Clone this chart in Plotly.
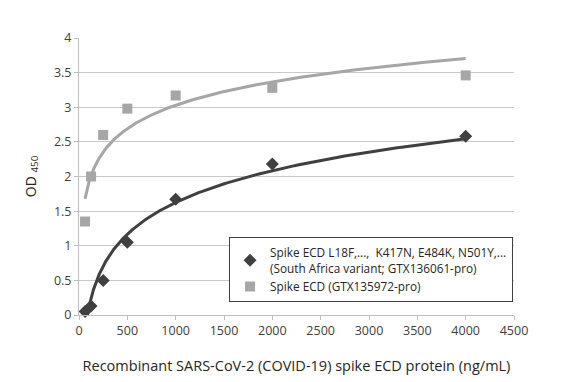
import numpy as np
import plotly.graph_objects as go

# Data
concentration = [62.5, 125, 250, 500, 1000, 2000, 4000]
variant_od = [0.05, 0.13, 0.50, 1.05, 1.67, 2.18, 2.58]
wildtype_od = [1.35, 2.00, 2.60, 2.98, 3.17, 3.28, 3.46]
variant_name = "Spike ECD L18F,...,  K417N, E484K, N501Y,...<br>(South Africa variant; GTX136061-pro)"
wildtype_name = "Spike ECD (GTX135972-pro)"
x_ticks = [0, 500, 1000, 1500, 2000, 2500, 3000, 3500, 4000, 4500]
y_ticks = [0, 0.5, 1, 1.5, 2, 2.5, 3, 3.5, 4]

DARK = "#404040"
LIGHT = "#a6a6a6"
FONT = "Open Sans"


def log_trend(xs, ys):
    lx = np.log(np.array(xs, dtype=float))
    a, b = np.polyfit(lx, np.array(ys, dtype=float), 1)
    xx = np.geomspace(min(xs), max(xs), 300)
    return xx, a * np.log(xx) + b


fig = go.Figure()

for ys, col in [(wildtype_od, LIGHT), (variant_od, DARK)]:
    tx, ty = log_trend(concentration, ys)
    fig.add_trace(go.Scatter(x=tx, y=ty, mode="lines",
                             line=dict(color=col, width=3),
                             showlegend=False, hoverinfo="skip"))

fig.add_trace(go.Scatter(x=concentration, y=variant_od, mode="markers",
                         name=variant_name, cliponaxis=False,
                         marker=dict(symbol="diamond", size=10, color=DARK)))
fig.add_trace(go.Scatter(x=concentration, y=wildtype_od, mode="markers",
                         name=wildtype_name, cliponaxis=False,
                         marker=dict(symbol="square", size=10, color=LIGHT)))

fig.update_layout(
    width=582, height=382,
    margin=dict(l=71, r=76, t=30, b=75, autoexpand=False),
    paper_bgcolor="white", plot_bgcolor="white",
    font=dict(family=FONT, size=12.5, color="#404040"),
    legend=dict(x=0.345, y=0.28, xanchor="left", yanchor="top",
                bgcolor="white", bordercolor="#404040", borderwidth=1,
                font=dict(size=11.8, color="#262626"),
                itemwidth=30, tracegroupgap=0),
    xaxis=dict(range=[0, 4500], tickvals=x_ticks, ticktext=[str(v) for v in x_ticks],
               showgrid=False, zeroline=False, showline=True, automargin=False,
               linecolor="#bfbfbf", linewidth=1, ticks="outside",
               tickcolor="#bfbfbf", ticklen=4,
               title=dict(text="Recombinant SARS-CoV-2 (COVID-19) spike ECD protein (ng/mL)",
                          font=dict(size=14.5, color="#262626"), standoff=22)),
    yaxis=dict(range=[0, 4], tickvals=y_ticks, ticktext=[f"{v:g}" for v in y_ticks],
               showgrid=True, gridcolor="#c8c8c8", gridwidth=1,
               zeroline=False, showline=True, automargin=False,
               linecolor="#bfbfbf", linewidth=1, ticks="outside",
               tickcolor="#bfbfbf", ticklen=4,
               title=dict(text="OD <sub>450</sub>",
                          font=dict(size=14, color="#262626"), standoff=14)),
)

fig.write_html("out.html")
